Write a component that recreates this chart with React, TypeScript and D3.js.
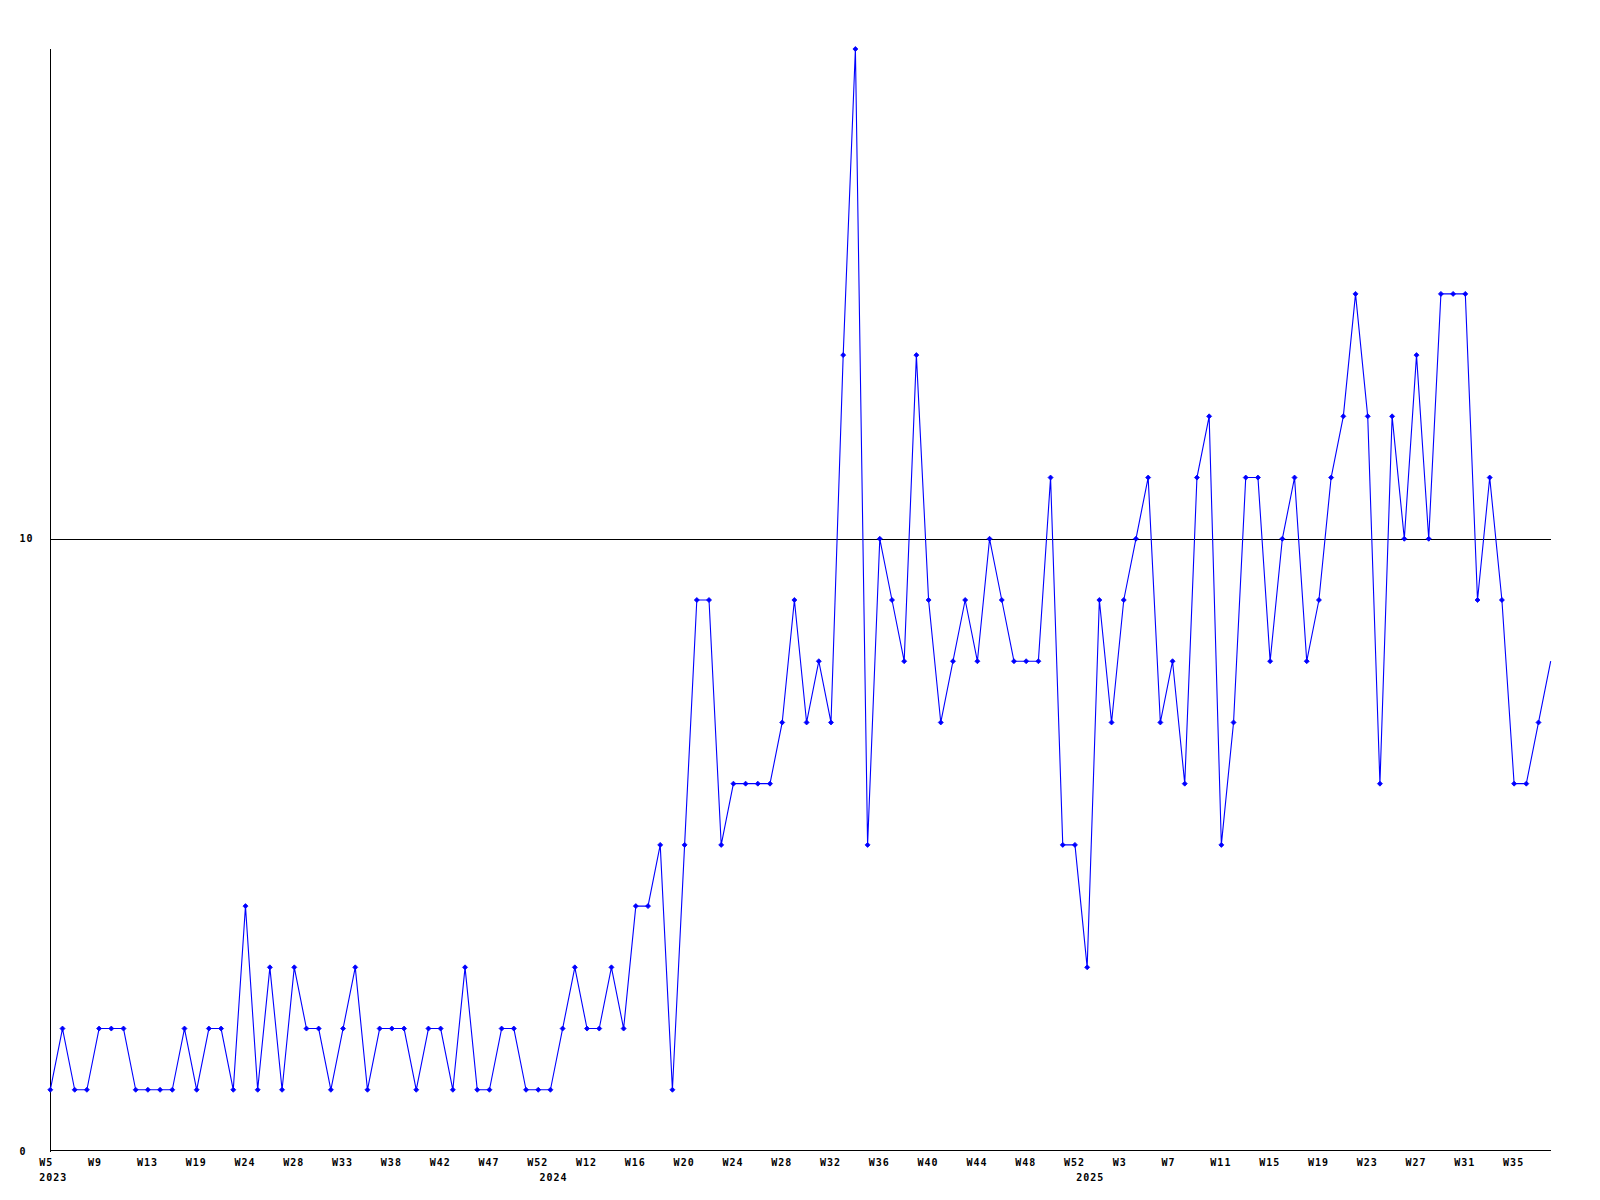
import React from "react";
import * as d3 from "d3";

// Weekly counts, in order (one value per plotted week)
const values: number[] = [
  1, 2, 1, 1, 2, 2, 2, 1, 1, 1, 1, 2, 1, 2, 2, 1, 4, 1, 3, 1,
  3, 2, 2, 1, 2, 3, 1, 2, 2, 2, 1, 2, 2, 1, 3, 1, 1, 2, 2, 1,
  1, 1, 2, 3, 2, 2, 3, 2, 4, 4, 5, 1, 5, 9, 9, 5, 6, 6, 6, 6,
  7, 9, 7, 8, 7, 13, 18, 5, 10, 9, 8, 13, 9, 7, 8, 9, 8, 10, 9, 8,
  8, 8, 11, 5, 5, 3, 9, 7, 9, 10, 11, 7, 8, 6, 11, 12, 5, 7, 11, 11,
  8, 10, 11, 8, 9, 11, 12, 14, 12, 6, 12, 10, 13, 10, 14, 14, 14, 9, 11, 9,
  6, 6, 7, 8,
];

// Week labels for each plotted point
const weeks2023: string[] = [
  "W5", "W6", "W7", "W8", "W9", "W10", "W11", "W12", "W13", "W14", "W16", "W17", "W19",
  "W20", "W21", "W23", "W24", "W25", "W26", "W27", "W28", "W29", "W30", "W32", "W33",
  "W34", "W35", "W36", "W38", "W39", "W40", "W41", "W42", "W43", "W44", "W46", "W47",
  "W48", "W49", "W51", "W52",
];
const weeks2024: string[] = [
  "W9", "W10", "W11", "W12", "W13", "W14", "W15", "W16", "W17", "W18", "W19", "W20",
  "W21", "W22", "W23", "W24", "W25", "W26", "W27", "W28", "W29", "W30", "W31", "W32",
  "W33", "W34", "W35", "W36", "W37", "W38", "W39", "W40", "W41", "W42", "W43", "W44",
  "W45", "W46", "W47", "W48", "W49", "W50", "W51", "W52",
];
const weeks2025: string[] = [
  "W0", "W1", "W2", "W3", "W4", "W5", "W6", "W7", "W8", "W9", "W10", "W11", "W12",
  "W13", "W14", "W15", "W16", "W17", "W18", "W19", "W20", "W21", "W22", "W23", "W24",
  "W25", "W26", "W27", "W28", "W29", "W30", "W31", "W32", "W33", "W34", "W35", "W36",
  "W37", "W38",
];
const years: string[] = ["2023", "2024", "2025"];
const yTicks: number[] = [0, 10];
const yMax = 18;
const labelEvery = 4;

const weekLabels = [...weeks2023, ...weeks2024, ...weeks2025];
const yearStarts = [0, weeks2023.length, weeks2023.length + weeks2024.length];

export default function App() {
  const W = 1600;
  const H = 1200;
  const left = 50.3;
  const right = 1550.7;
  const top = 49;
  const bottom = 1151;
  const n = values.length;

  const x = d3.scaleLinear().domain([0, n - 1]).range([left, right]);
  const y = d3.scaleLinear().domain([0, yMax]).range([bottom, top]);

  const line = d3
    .line<number>()
    .x((_, i) => x(i))
    .y((d) => y(d));

  const font = "'DejaVu Sans Mono', 'Liberation Mono', monospace";
  const blue = "#0000ff";
  const marker = (cx: number, cy: number) =>
    `M${cx - 2.5},${cy}L${cx},${cy - 2.5}L${cx + 2.5},${cy}L${cx},${cy + 2.5}Z`;
  const textStyle = {
    fontFamily: font,
    fontWeight: "bold" as const,
    fontSize: 10,
    letterSpacing: 1,
  };

  return (
    <svg
      width={W}
      height={H}
      style={{ position: "absolute", left: 0, top: 0, background: "#fff" }}
    >
      <rect x={0} y={0} width={W} height={H} fill="#fff" />
      {/* gridlines */}
      {yTicks
        .filter((t) => t > 0)
        .map((t) => (
          <line
            key={"g" + t}
            x1={left}
            x2={right}
            y1={Math.round(y(t)) + 0.5}
            y2={Math.round(y(t)) + 0.5}
            stroke="#000"
            strokeWidth={1}
            shapeRendering="crispEdges"
          />
        ))}
      {/* axes */}
      <line
        x1={50.5}
        x2={50.5}
        y1={top}
        y2={bottom + 0.5}
        stroke="#000"
        shapeRendering="crispEdges"
      />
      <line
        x1={50}
        x2={right}
        y1={bottom - 0.5}
        y2={bottom - 0.5}
        stroke="#000"
        shapeRendering="crispEdges"
      />
      {/* y tick labels */}
      {yTicks.map((t) => (
        <text key={"yt" + t} x={19.5} y={y(t) + 3.5} fill="#000" style={textStyle}>
          {t}
        </text>
      ))}
      {/* x week labels */}
      {weekLabels.map((lab, i) =>
        i % labelEvery === 0 ? (
          <text key={"xw" + i} x={x(i) - 11} y={1166} fill="#000" style={textStyle}>
            {lab}
          </text>
        ) : null
      )}
      {/* year labels */}
      {years.map((yr, k) => (
        <text key={"yr" + yr} x={x(yearStarts[k]) - 11} y={1181} fill="#000" style={textStyle}>
          {yr}
        </text>
      ))}
      {/* series line */}
      <path d={line(values) || ""} fill="none" stroke={blue} strokeWidth={1.1} />
      {/* markers */}
      {values.map((v, i) =>
        i < n - 1 ? (
          <path
            key={"m" + i}
            d={marker(x(i), y(v))}
            fill={blue}
            stroke={blue}
            strokeWidth={0.8}
          />
        ) : null
      )}
    </svg>
  );
}
